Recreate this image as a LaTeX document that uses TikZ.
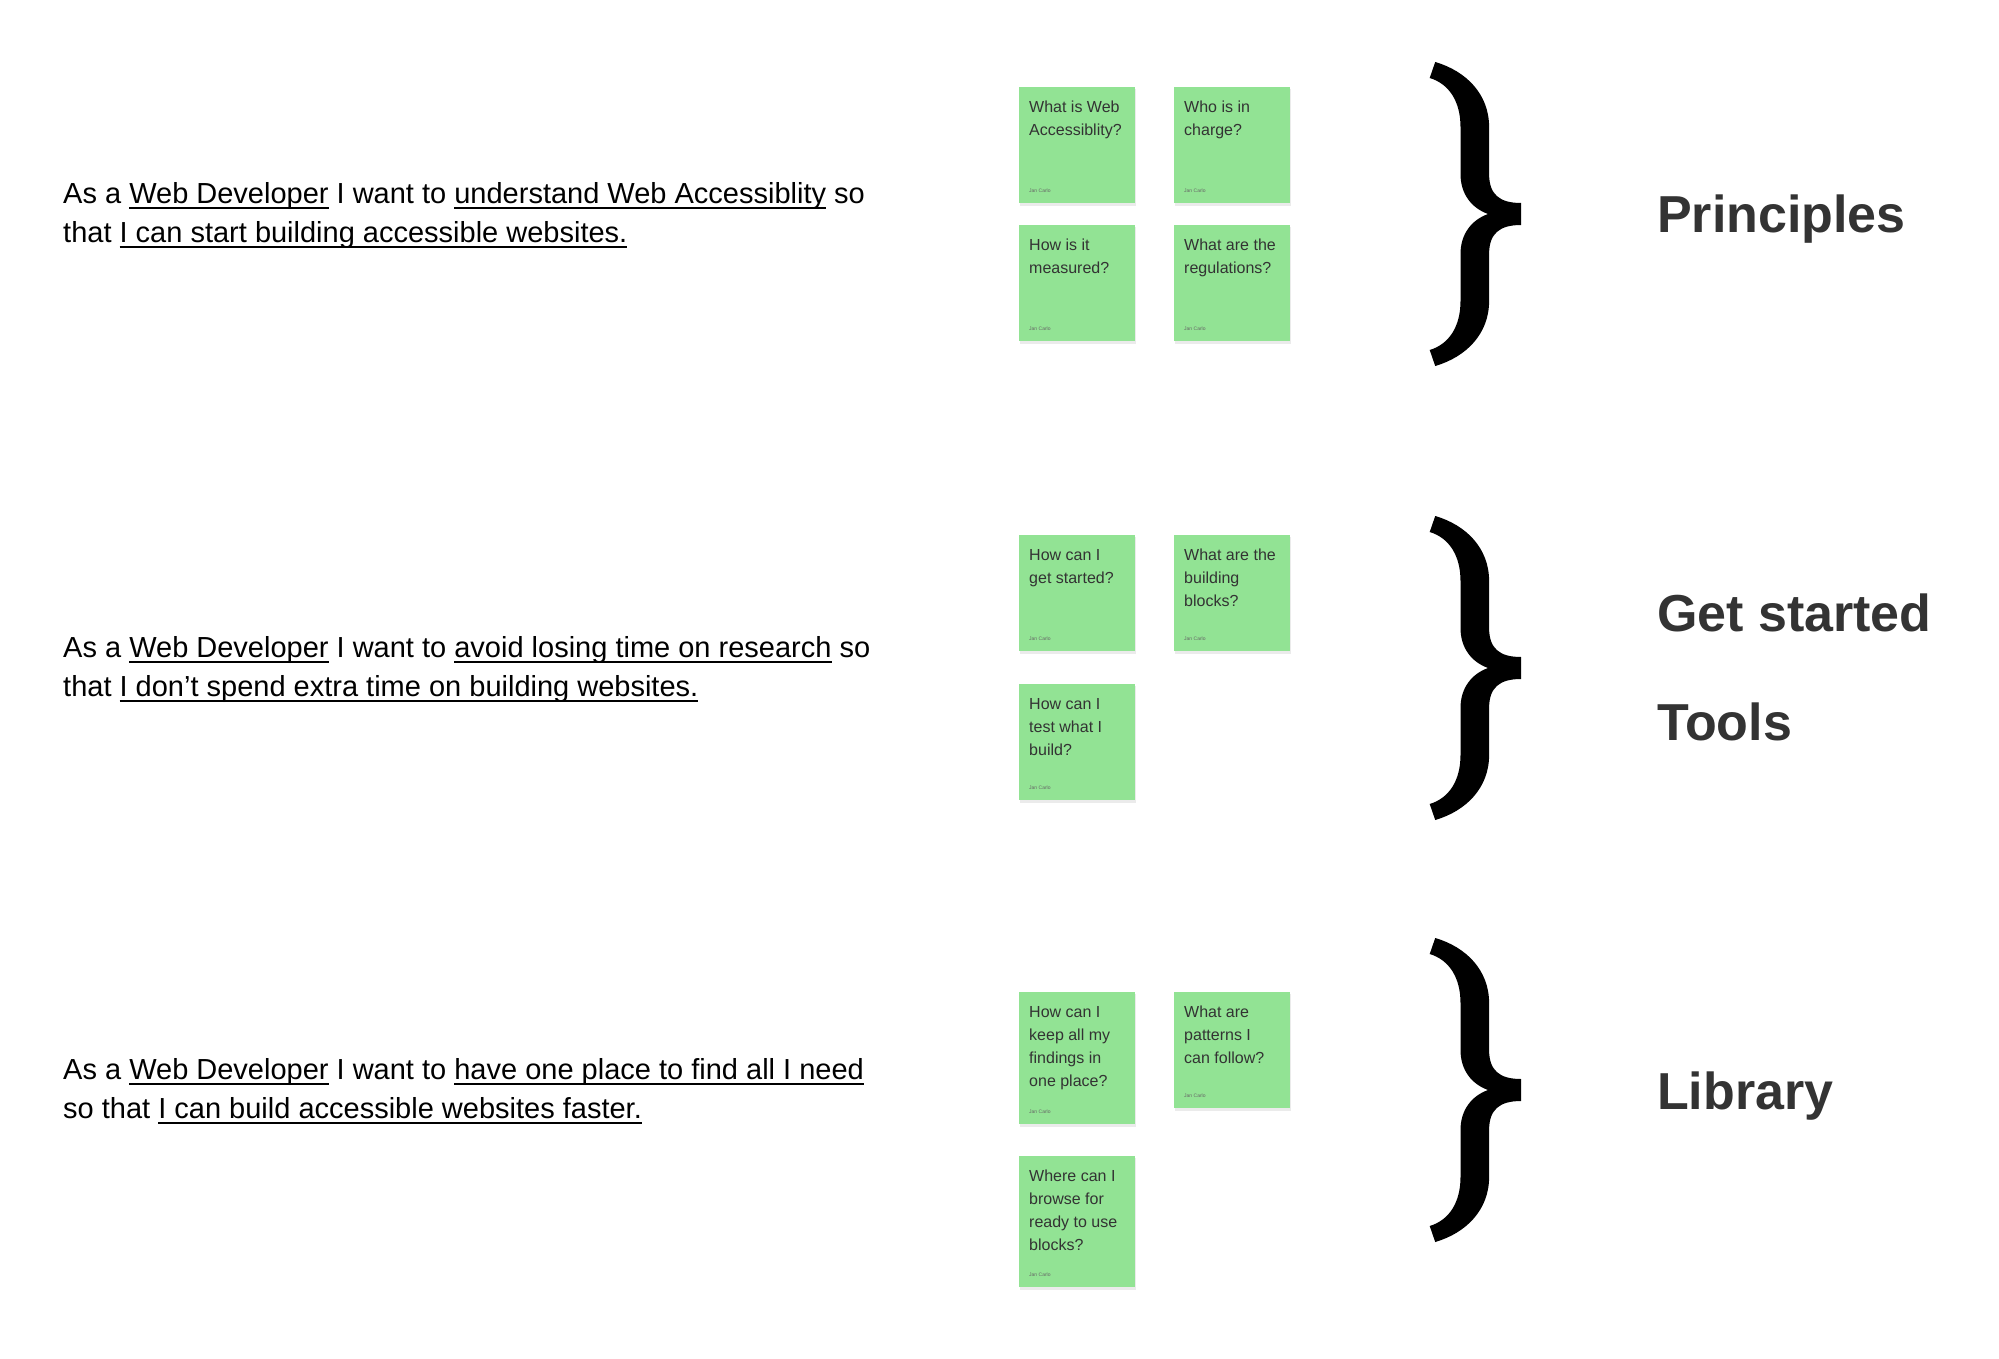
\documentclass[tikz,border=0pt]{standalone}
\usepackage{fontspec}
\setmainfont{Liberation Sans}
\usetikzlibrary{positioning}

\definecolor{notegreen}{RGB}{146,227,148}
\definecolor{darktext}{RGB}{51,51,51}

% underline that keeps to the phrase
\newcommand{\uln}[1]{\setbox0=\hbox{#1}\rlap{\rule[-0.22em]{\wd0}{0.07em}}\box0\relax}

\tikzset{
  story/.style={anchor=base west, align=left, inner sep=0pt, font=\fontsize{29}{39}\selectfont},
  note/.style={fill=notegreen, minimum width=116pt, anchor=north west, inner sep=0pt},
  notetext/.style={anchor=north west, align=left, inner sep=0pt, text=darktext, font=\fontsize{16}{23}\selectfont},
  noteauthor/.style={anchor=base west, inner sep=0pt, text=black!60, font=\fontsize{5}{6}\selectfont},
  topic/.style={anchor=base west, inner sep=0pt, text=darktext, font=\fontsize{52}{60}\selectfont\bfseries}
}

% name, x, y, height, text
\newcommand{\sticky}[5]{%
  \fill[black!8] (#2+1,#3+2) rectangle (#2+117,#3+#4+3);
  \node[note, minimum height=#4pt] (#1) at (#2,#3) {};
  \node[notetext, xshift=10pt, yshift=-14pt] (#1-q) at (#1.north west) {#5};
  \node[noteauthor, xshift=10pt, yshift=11pt] (#1-a) at (#1.south west) {Jan Carlo};
}

% name, tip of the brace
\newcommand{\curly}[2]{%
  \coordinate (#1) at #2;
  \fill[black, shift={#2}, xscale=1.1] (-78,-152) .. controls (-50,-143) and (-29,-120) .. (-29,-87)
    -- (-29,-40) .. controls (-29,-20) and (-20,-11) .. (0,-11) -- (0,11)
    .. controls (-20,11) and (-29,20) .. (-29,40) -- (-29,87)
    .. controls (-29,120) and (-50,143) .. (-78,152) -- (-83,136)
    .. controls (-65,130) and (-55,112) .. (-55,87) -- (-55,40)
    .. controls (-55,20) and (-45,6) .. (-30,0)
    .. controls (-45,-6) and (-55,-20) .. (-55,-40) -- (-55,-87)
    .. controls (-55,-112) and (-65,-130) .. (-83,-136) -- cycle;
}

\begin{document}
\begin{tikzpicture}[x=1pt,y=-1pt]
\fill[white] (0,0) rectangle (1999,1359);
\useasboundingbox (0,0) rectangle (1999,1359);

%% user stories (placed at the baseline of their last line)
\node[story] (story1) at (63,242) {As a \uln{Web Developer} I want to \uln{understand Web Accessiblity} so\\that \uln{I can start building accessible websites.}};
\node[story] (story2) at (63,696) {As a \uln{Web Developer} I want to \uln{avoid losing time on research} so\\that \uln{I don’t spend extra time on building websites.}};
\node[story] (story3) at (63,1118) {As a \uln{Web Developer} I want to \uln{have one place to find all I need}\\so that \uln{I can build accessible websites faster.}};

%% questions
\sticky{q1}{1019}{87}{116}{What is Web\\Accessiblity?}
\sticky{q2}{1174}{87}{116}{Who is in\\charge?}
\sticky{q3}{1019}{225}{116}{How is it\\measured?}
\sticky{q4}{1174}{225}{116}{What are the\\regulations?}

\sticky{q5}{1019}{535}{116}{How can I\\get started?}
\sticky{q6}{1174}{535}{116}{What are the\\building\\blocks?}
\sticky{q7}{1019}{684}{116}{How can I\\test what I\\build?}

\sticky{q8}{1019}{992}{132}{How can I\\keep all my\\findings in\\one place?}
\sticky{q9}{1174}{992}{116}{What are\\patterns I\\can follow?}
\sticky{q10}{1019}{1156}{131}{Where can I\\browse for\\ready to use\\blocks?}

%% braces and topics
\curly{b1}{(1521,214)}
\curly{b2}{(1521,668)}
\curly{b3}{(1521,1090)}

\node[topic] (principles) at (1657,233) {Principles};
\node[topic] (started) at (1657,631) {Get started};
\node[topic] (tools) at (1657,740) {Tools};
\node[topic] (library) at (1657,1109) {Library};
\end{tikzpicture}
\end{document}
